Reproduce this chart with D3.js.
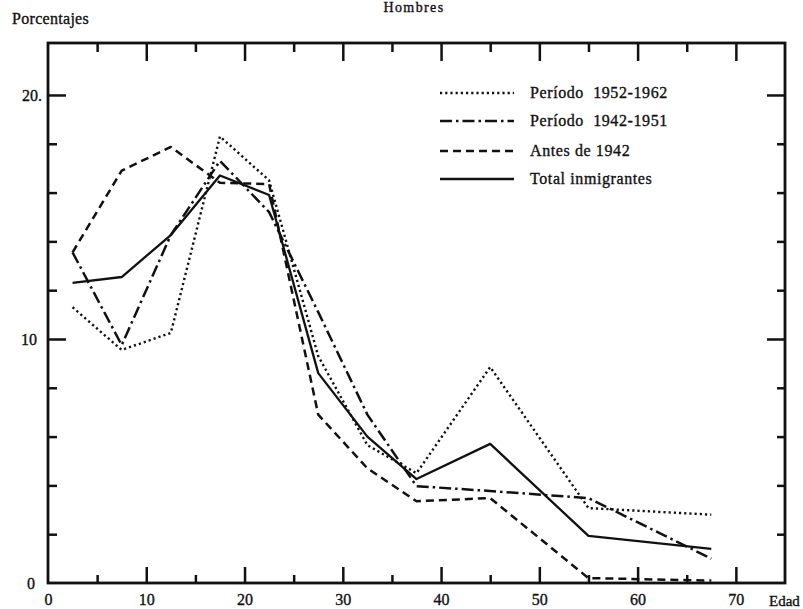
<!DOCTYPE html>
<html>
<head>
<meta charset="utf-8">
<script src="https://cdn.jsdelivr.net/npm/d3@7"></script>
<style>
  html, body { margin: 0; padding: 0; background: #fff; }
  svg { display: block; }
  text { font-family: "Liberation Serif", "DejaVu Serif", serif; fill: #111; stroke: #111; stroke-width: 0.35px; }
</style>
</head>
<body>
<svg id="chart" width="803" height="609"></svg>
<script>
// ---- data ----
const ages      = [2.5, 7.5, 12.5, 17.5, 22.5, 27.5, 32.5, 37.5, 45, 55, 67.5];
const p1952     = [11.3, 9.55, 10.25, 18.3, 16.5, 9.3, 5.65, 4.5, 8.85, 3.07, 2.8];
const p1942     = [13.55, 9.75, 14.26, 17.3, 15.2, 11.1, 6.9, 3.97, 3.77, 3.48, 1.0];
const antes1942 = [13.55, 16.9, 17.87, 16.4, 16.35, 6.9, 4.7, 3.35, 3.48, 0.2, 0.1];
const totalInm  = [12.3, 12.54, 14.26, 16.7, 15.9, 8.6, 6.0, 4.26, 5.7, 1.93, 1.4];
const seriesNames = ["Período  1952-1962", "Período  1942-1951", "Antes de 1942", "Total inmigrantes"];
const xTickLabels = [0, 10, 20, 30, 40, 50, 60, 70];
const yTickLabels = [0, 10, 20];

const svg = d3.select("#chart");
const x = d3.scaleLinear().domain([0, 75]).range([48, 785]);
const y = d3.scaleLinear().domain([0, 22.13]).range([583, 43]);

// title & axis titles
svg.append("text").attr("x", 414).attr("y", 12).attr("text-anchor", "middle")
  .style("font-size", "14px").style("letter-spacing", "1.4px").text("Hombres");
svg.append("text").attr("x", 12).attr("y", 24)
  .style("font-size", "16px").style("letter-spacing", "0.3px").text("Porcentajes");
svg.append("text").attr("x", 769).attr("y", 606)
  .style("font-size", "15px").text("Edad");

// frame
svg.append("rect").attr("x", x(0)).attr("y", y(22.13))
  .attr("width", x(75) - x(0)).attr("height", y(0) - y(22.13))
  .attr("fill", "none").attr("stroke", "#111").attr("stroke-width", 2.8);

function styleAxis(g, w) {
  g.select(".domain").remove();
  g.selectAll(".tick line").attr("stroke", "#111").attr("stroke-width", w);
  g.selectAll("text").style("font-family", '"Liberation Serif", serif').style("font-size", "16px").attr("fill", "#111");
}
const xMajor = d3.range(10, 75, 10), xMinor = d3.range(5, 75, 10);
const yMajor = [10, 20], yMinor = [2, 4, 6, 8, 12, 14, 16, 18];

// bottom
svg.append("g").attr("transform", `translate(0,${y(0)})`)
  .call(d3.axisBottom(x).tickValues(xMajor).tickSize(-16).tickFormat(""))
  .call(g => styleAxis(g, 2.5));
svg.append("g").attr("transform", `translate(0,${y(0)})`)
  .call(d3.axisBottom(x).tickValues(xMinor).tickSize(-8).tickFormat(""))
  .call(g => styleAxis(g, 2.5));
svg.append("g").attr("transform", `translate(0,${y(0)})`)
  .call(d3.axisBottom(x).tickValues(xTickLabels).tickSize(0).tickPadding(11))
  .call(g => styleAxis(g, 0));
// top
svg.append("g").attr("transform", `translate(0,${y(22.13)})`)
  .call(d3.axisTop(x).tickValues(xMajor).tickSize(-18).tickFormat(""))
  .call(g => styleAxis(g, 2.5));
svg.append("g").attr("transform", `translate(0,${y(22.13)})`)
  .call(d3.axisTop(x).tickValues(xMinor).tickSize(-9).tickFormat(""))
  .call(g => styleAxis(g, 2.5));
// left
svg.append("g").attr("transform", `translate(${x(0)},0)`)
  .call(d3.axisLeft(y).tickValues(yMajor).tickSize(-18).tickFormat(""))
  .call(g => styleAxis(g, 2.5));
svg.append("g").attr("transform", `translate(${x(0)},0)`)
  .call(d3.axisLeft(y).tickValues(yMinor).tickSize(-9).tickFormat(""))
  .call(g => styleAxis(g, 2.5));
svg.append("g").attr("transform", `translate(${x(0)},0)`)
  .call(d3.axisLeft(y).tickValues(yTickLabels).tickSize(0).tickPadding(11)
    .tickFormat(d => d === 20 ? "20." : d))
  .call(g => styleAxis(g, 0))
  .call(g => g.selectAll(".tick text").filter(d => d === 20).attr("dx", 5))
  .call(g => g.selectAll(".tick text").filter(d => d === 0).attr("dx", -2));
// right
svg.append("g").attr("transform", `translate(${x(75)},0)`)
  .call(d3.axisRight(y).tickValues(yMajor).tickSize(-18).tickFormat(""))
  .call(g => styleAxis(g, 2.5));
svg.append("g").attr("transform", `translate(${x(75)},0)`)
  .call(d3.axisRight(y).tickValues(yMinor).tickSize(-8).tickFormat(""))
  .call(g => styleAxis(g, 2.5));

// series
const styles = [
  { dash: "2.2,3", w: 2.4 },
  { dash: "12,4,2.5,4", w: 2.5 },
  { dash: "8,5", w: 2.5 },
  { dash: null, w: 2.3 }
];
const allSeries = [p1952, p1942, antes1942, totalInm];
const line = d3.line().x((d, i) => x(ages[i])).y(d => y(d));
allSeries.forEach((vals, k) => {
  svg.append("path").datum(vals).attr("d", line)
    .attr("fill", "none").attr("stroke", "#111")
    .attr("stroke-width", styles[k].w)
    .attr("stroke-dasharray", styles[k].dash)
    .attr("stroke-linejoin", "round");
});

// legend
const legY = [93, 121, 151, 179];
seriesNames.forEach((name, k) => {
  svg.append("line").attr("x1", 440).attr("x2", 514)
    .attr("y1", legY[k]).attr("y2", legY[k])
    .attr("stroke", "#111").attr("stroke-width", styles[k].w)
    .attr("stroke-dasharray", styles[k].dash);
  svg.append("text").attr("x", 530).attr("y", legY[k] + 5)
    .style("font-size", "16px").style("letter-spacing", "0.6px")
    .style("white-space", "pre").text(name);
});
</script>
</body>
</html>
